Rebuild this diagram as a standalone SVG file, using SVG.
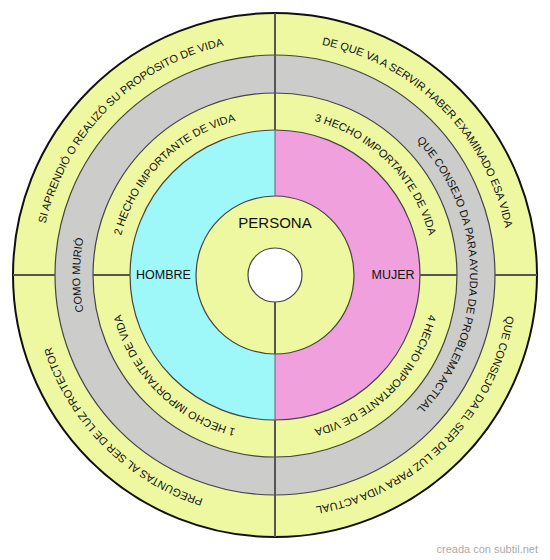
<svg xmlns="http://www.w3.org/2000/svg" xmlns:xlink="http://www.w3.org/1999/xlink" width="550" height="560" viewBox="0 0 550 560">
<style>
.ring{stroke:#444;stroke-width:1.2}
.yel{fill:#EEF8A0}
.gry{fill:#CCCCCA}
.blu{fill:#9EF7F8}
.pnk{fill:#F0A0DC}
.div{stroke:#555;stroke-width:2;fill:none}
.thin{stroke:#666;stroke-width:1;fill:none}
.t{font-family:"Liberation Sans",Arial,sans-serif;font-size:11px;fill:#111}
.lbl{font-family:"Liberation Sans",Arial,sans-serif;fill:#111;text-anchor:middle}
.wm{font-family:"Liberation Sans",Arial,sans-serif;font-size:11px;fill:#aaa;text-anchor:end}
</style>
<defs>
<path id="o225" d="M94.98,426.06 A235,235 0 0 1 426.06,94.98"/>
<path id="o315" d="M123.94,94.98 A235,235 0 0 1 455.02,426.06"/>
<path id="o45" d="M455.02,123.94 A235,235 0 0 1 123.94,455.02"/>
<path id="o135" d="M426.06,455.02 A235,235 0 0 1 94.98,123.94"/>
<path id="i225" d="M153.20,377.20 A159,159 0 0 1 377.20,153.20"/>
<path id="i315" d="M172.80,153.20 A159,159 0 0 1 396.80,377.20"/>
<path id="i45" d="M396.80,172.80 A159,159 0 0 1 172.80,396.80"/>
<path id="i135" d="M377.20,396.80 A159,159 0 0 1 153.20,172.80"/>
<path id="g180" d="M258.00,469.26 A195,195 0 0 1 258.00,80.74"/>
<path id="g0" d="M292.00,80.74 A195,195 0 0 1 292.00,469.26"/>
</defs>

<g id="outer-ring">
<circle cx="275" cy="275" r="262" class="yel" stroke="#111" stroke-width="2"/>
</g>
<g id="gray-ring">
<circle cx="275" cy="275" r="220" class="gry ring"/>
</g>
<g id="inner-ring">
<circle cx="275" cy="275" r="182" class="yel ring"/>
</g>
<g id="hombre">
<path d="M275,130 A145,145 0 0 0 275,420 Z" class="blu"/>
</g>
<g id="mujer">
<path d="M275,130 A145,145 0 0 1 275,420 Z" class="pnk"/>
</g>
<circle cx="275" cy="275" r="145" fill="none" class="ring"/>
<g id="persona">
<circle cx="275" cy="275" r="79" class="yel ring"/>
</g>
<g id="center">
<circle cx="275" cy="275" r="27" fill="#fff" class="ring"/>
</g>

<g id="connectors">
<line x1="275" y1="13" x2="275" y2="130" class="div"/>
<line x1="275" y1="420" x2="275" y2="537" class="div"/>
<line x1="275" y1="130" x2="275" y2="196" class="thin"/>
<line x1="275" y1="354" x2="275" y2="420" class="thin"/>
<line x1="275" y1="302" x2="275" y2="354" class="div"/>
<line x1="13" y1="275" x2="55" y2="275" class="div"/>
<line x1="93" y1="275" x2="130" y2="275" class="div"/>
<line x1="420" y1="275" x2="457" y2="275" class="div"/>
<line x1="495" y1="275" x2="537" y2="275" class="div"/>
</g>

<g id="labels">
<text class="t"><textPath xlink:href="#o225" href="#o225" startOffset="50%" text-anchor="middle">SI APRENDIÓ O REALIZÓ SU PROPÓSITO DE VIDA</textPath></text>
<text class="t"><textPath xlink:href="#o315" href="#o315" startOffset="50%" text-anchor="middle">DE QUE VA A SERVIR HABER EXAMINADO ESA VIDA</textPath></text>
<text class="t"><textPath xlink:href="#o45" href="#o45" startOffset="50%" text-anchor="middle">QUE CONSEJO DA EL SER DE LUZ PARA VIDA ACTUAL</textPath></text>
<text class="t"><textPath xlink:href="#o135" href="#o135" startOffset="50%" text-anchor="middle">PREGUNTAS AL SER DE LUZ PROTECTOR</textPath></text>
<text class="t"><textPath xlink:href="#i225" href="#i225" startOffset="50%" text-anchor="middle">2 HECHO IMPORTANTE DE VIDA</textPath></text>
<text class="t"><textPath xlink:href="#i315" href="#i315" startOffset="50%" text-anchor="middle">3 HECHO IMPORTANTE DE VIDA</textPath></text>
<text class="t"><textPath xlink:href="#i45" href="#i45" startOffset="50%" text-anchor="middle">4 HECHO IMPORTANTE DE VIDA</textPath></text>
<text class="t"><textPath xlink:href="#i135" href="#i135" startOffset="50%" text-anchor="middle">1 HECHO IMPORTANTE DE VIDA</textPath></text>
<text class="t"><textPath xlink:href="#g180" href="#g180" startOffset="50%" text-anchor="middle">COMO MURIÓ</textPath></text>
<text class="t"><textPath xlink:href="#g0" href="#g0" startOffset="50%" text-anchor="middle">QUE CONSEJO DA PARA AYUDA DE PROBLEMA ACTUAL</textPath></text>
<text class="lbl" x="275" y="228" font-size="15">PERSONA</text>
<text class="lbl" x="163.5" y="278.5" font-size="12.5">HOMBRE</text>
<text class="lbl" x="393" y="278.5" font-size="12.5">MUJER</text>
</g>
<text class="wm" x="538" y="553">creada con subtil.net</text>
</svg>
